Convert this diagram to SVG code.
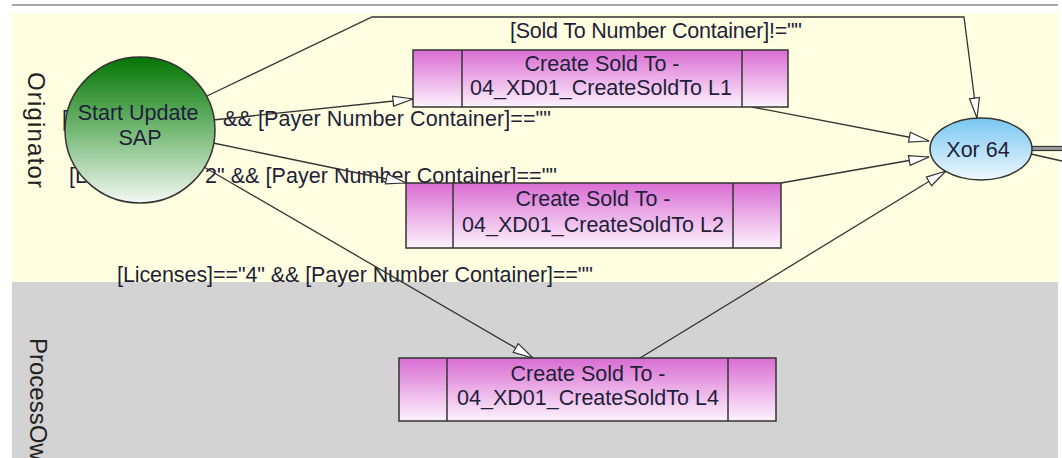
<svg xmlns="http://www.w3.org/2000/svg" width="1062" height="458" viewBox="0 0 1062 458">
<defs>
<linearGradient id="gGreen" x1="0" y1="0" x2="0" y2="1">
<stop offset="0" stop-color="#037503"/>
<stop offset="0.5" stop-color="#74b874"/>
<stop offset="1" stop-color="#f4f8f4"/>
</linearGradient>
<linearGradient id="gBlue" x1="0" y1="0" x2="0" y2="1">
<stop offset="0" stop-color="#78c6f2"/>
<stop offset="1" stop-color="#eef8fe"/>
</linearGradient>
<linearGradient id="gPurple" x1="0" y1="0" x2="0" y2="1">
<stop offset="0" stop-color="#d96cd2"/>
<stop offset="1" stop-color="#fdf3fd"/>
</linearGradient>
<marker id="arr" markerUnits="userSpaceOnUse" markerWidth="24" markerHeight="14" refX="21" refY="6" orient="auto">
<path d="M1,1 L21,6 L1,11 Z" fill="#ffffff" stroke="#333333" stroke-width="1.2"/>
</marker>
<clipPath id="clipLane"><rect x="12" y="282" width="1046" height="176"/></clipPath>
</defs>
<style>
.lbl{font-family:"Liberation Sans",Arial,sans-serif;font-size:21.5px;fill:#1f1f3a}
.lane{font-family:"Liberation Sans",Arial,sans-serif;font-size:24px;fill:#222222}
.ntxt{font-family:"Liberation Sans",Arial,sans-serif;font-size:21.5px;fill:#1f1f3a;text-anchor:middle}
.conn{fill:none;stroke:#333333;stroke-width:1.3}
.box{fill:url(#gPurple);stroke:#333333;stroke-width:1.5}
.div{stroke:#333333;stroke-width:1.5}
</style>

<g id="background">
<rect x="0" y="0" width="1062" height="458" fill="#ffffff"/>
<line x1="12" y1="5" x2="1058" y2="5" stroke="#a8a8a8" stroke-width="2"/>
</g>

<g id="lane-originator">
<rect x="12" y="13" width="1046" height="269" fill="#fffee0"/>
<text class="lane" transform="translate(28,130) rotate(90)" text-anchor="middle" textLength="116" lengthAdjust="spacing">Originator</text>
</g>

<g id="lane-process">
<rect x="12" y="282" width="1046" height="176" fill="#d3d3d3"/>
<g clip-path="url(#clipLane)">
<text class="lane" transform="translate(30,338) rotate(90)">ProcessOwner</text>
</g>
</g>

<g id="labels">
<text class="lbl" x="510" y="38" textLength="292" lengthAdjust="spacing">[Sold To Number Container]!=""</text>
<text class="lbl" x="62" y="126">[</text>
<text class="lbl" x="223" y="126" textLength="328" lengthAdjust="spacing">&amp;&amp; [Payer Number Container]==""</text>
<text class="lbl" x="69" y="183">[L</text>
<text class="lbl" x="205" y="183" textLength="352" lengthAdjust="spacing">2" &amp;&amp; [Payer Number Container]==""</text>
<text class="lbl" x="117" y="282" textLength="476" lengthAdjust="spacing">[Licenses]=="4" &amp;&amp; [Payer Number Container]==""</text>
</g>

<g id="connectors">
<polyline class="conn" points="207,96 372,17 964,17 977,118" marker-end="url(#arr)"/>
<line class="conn" x1="213" y1="120" x2="413" y2="99" marker-end="url(#arr)"/>
<line class="conn" x1="213" y1="143" x2="406" y2="183" marker-end="url(#arr)"/>
<line class="conn" x1="204" y1="167" x2="533" y2="358" marker-end="url(#arr)"/>
<line class="conn" x1="752" y1="107" x2="929" y2="141" marker-end="url(#arr)"/>
<line class="conn" x1="781" y1="183" x2="929" y2="157" marker-end="url(#arr)"/>
<line class="conn" x1="640" y1="358" x2="946" y2="171" marker-end="url(#arr)"/>
<line x1="1032" y1="146.5" x2="1062" y2="146.5" stroke="#333333" stroke-width="1.2"/>
<line x1="1032" y1="148.5" x2="1062" y2="148.5" stroke="#9a9a9a" stroke-width="3"/>
<line x1="1032" y1="150.5" x2="1062" y2="150.5" stroke="#333333" stroke-width="1.2"/>
<line class="conn" x1="1031" y1="154" x2="1062" y2="161"/>
</g>

<g id="node-start">
<ellipse cx="140" cy="130" rx="75" ry="73" fill="url(#gGreen)" stroke="#333333" stroke-width="1.5"/>
<text class="ntxt" x="138" y="120">Start Update</text>
<text class="ntxt" x="140" y="145">SAP</text>
</g>

<g id="node-l1">
<rect class="box" x="413" y="50" width="375" height="57"/>
<line class="div" x1="462" y1="50" x2="462" y2="107"/>
<line class="div" x1="742" y1="50" x2="742" y2="107"/>
<text class="ntxt" x="602" y="71">Create Sold To -</text>
<text class="ntxt" x="601" y="95">04_XD01_CreateSoldTo L1</text>
</g>

<g id="node-l2">
<rect class="box" x="406" y="183" width="375" height="65"/>
<line class="div" x1="453" y1="183" x2="453" y2="248"/>
<line class="div" x1="733" y1="183" x2="733" y2="248"/>
<text class="ntxt" x="593" y="206">Create Sold To -</text>
<text class="ntxt" x="593" y="232">04_XD01_CreateSoldTo L2</text>
</g>

<g id="node-l4">
<rect class="box" x="399" y="358" width="377" height="63"/>
<line class="div" x1="447" y1="358" x2="447" y2="421"/>
<line class="div" x1="728" y1="358" x2="728" y2="421"/>
<text class="ntxt" x="588" y="381">Create Sold To -</text>
<text class="ntxt" x="588" y="405">04_XD01_CreateSoldTo L4</text>
</g>

<g id="node-xor">
<ellipse cx="981" cy="149" rx="51" ry="31" fill="url(#gBlue)" stroke="#333333" stroke-width="1.5"/>
<text class="ntxt" x="978" y="157">Xor 64</text>
</g>
</svg>
